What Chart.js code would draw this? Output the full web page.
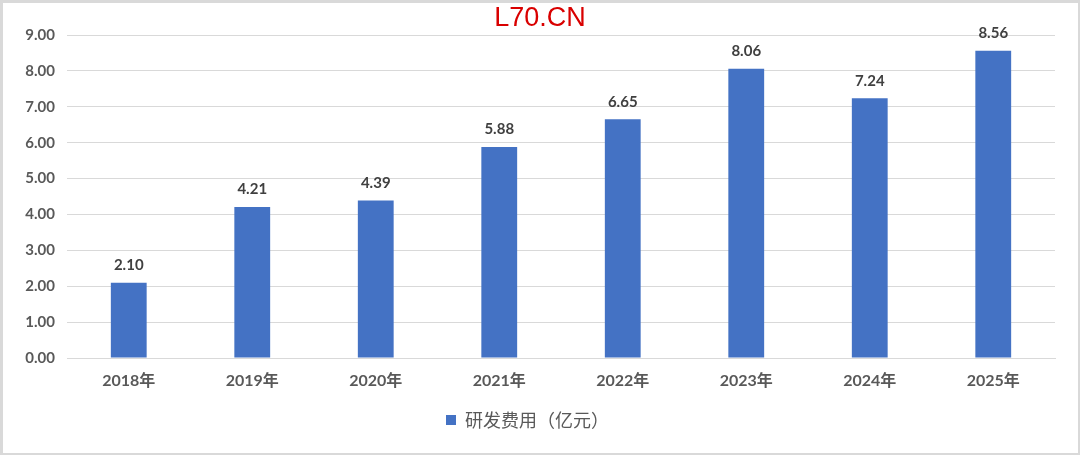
<!DOCTYPE html>
<html>
<head>
<meta charset="utf-8">
<script src="https://cdn.jsdelivr.net/npm/chart.js@4.4.0/dist/chart.umd.min.js"></script>
<style>
    html, body { margin: 0; padding: 0; background: #fff; }
    #wrap { position: relative; width: 1080px; height: 455px; box-sizing: border-box; border: 2px solid #d9d9d9; border-top-width: 3px; border-left-width: 3px; overflow: hidden; }
    #chartCanvas { position: absolute; left: -3px; top: -3px; }
    #mark { position: absolute; left: 0; top: -3px; width: 1080px; text-align: center; font: 27px "Liberation Sans", Arial, sans-serif; color: #d90000; line-height: 34px; margin-left: -3px; }
</style>
</head>
<body>
<div id="wrap">
    <canvas id="chartCanvas" width="1080" height="455"></canvas>
    <div id="mark">L70.CN</div>
</div>
<script>
const years = ["2018年", "2019年", "2020年", "2021年", "2022年", "2023年", "2024年", "2025年"];
const rdCost = [2.10, 4.21, 4.39, 5.88, 6.65, 8.06, 7.24, 8.56];
const seriesName = "研发费用（亿元）";

const tickFont = "Lato, 'Noto Sans CJK SC', sans-serif";

// draws the value above each bar
const valueLabels = {
    id: 'valueLabels',
    afterDatasetsDraw(chart) {
        const ctx = chart.ctx;
        const meta = chart.getDatasetMeta(0);
        ctx.save();
        ctx.font = "bold 15px " + tickFont;
        ctx.fillStyle = "#404040";
        ctx.textAlign = "center";
        ctx.textBaseline = "bottom";
        meta.data.forEach(function(bar, i) {
            ctx.fillText(rdCost[i].toFixed(2), bar.x, bar.y - 10);
        });
        ctx.restore();
    }
};

new Chart(document.getElementById("chartCanvas").getContext('2d'), {
    type: 'bar',
    data: {
        labels: years,
        datasets: [{
            label: seriesName,
            data: rdCost,
            backgroundColor: "#4472C4",
            barPercentage: 0.58,
            categoryPercentage: 0.5
        }]
    },
    options: {
        responsive: false,
        animation: false,
        layout: {
            padding: { top: 35, right: 25, bottom: 16, left: 0 }
        },
        plugins: {
            legend: {
                position: 'bottom',
                labels: {
                    color: "#595959",
                    font: { size: 18, family: "'Noto Sans CJK SC', sans-serif" },
                    boxWidth: 10,
                    boxHeight: 10,
                    padding: 7
                }
            },
            tooltip: { enabled: false }
        },
        scales: {
            x: {
                grid: { display: false },
                border: { display: true, color: "#d9d9d9" },
                ticks: {
                    color: "#595959",
                    padding: 5,
                    font: { size: 16, weight: 'bold', family: tickFont }
                },
                afterFit: function(scale) { scale.height = 46; }
            },
            y: {
                min: 0,
                max: 9,
                grid: { color: "#d9d9d9", drawTicks: false },
                border: { display: false },
                ticks: {
                    stepSize: 1,
                    color: "#595959",
                    padding: 12,
                    font: { size: 15, weight: 'bold', family: tickFont },
                    callback: function(v) { return v.toFixed(2); }
                },
                afterFit: function(scale) { scale.width = 67; }
            }
        }
    },
    plugins: [valueLabels]
});
</script>
</body>
</html>
